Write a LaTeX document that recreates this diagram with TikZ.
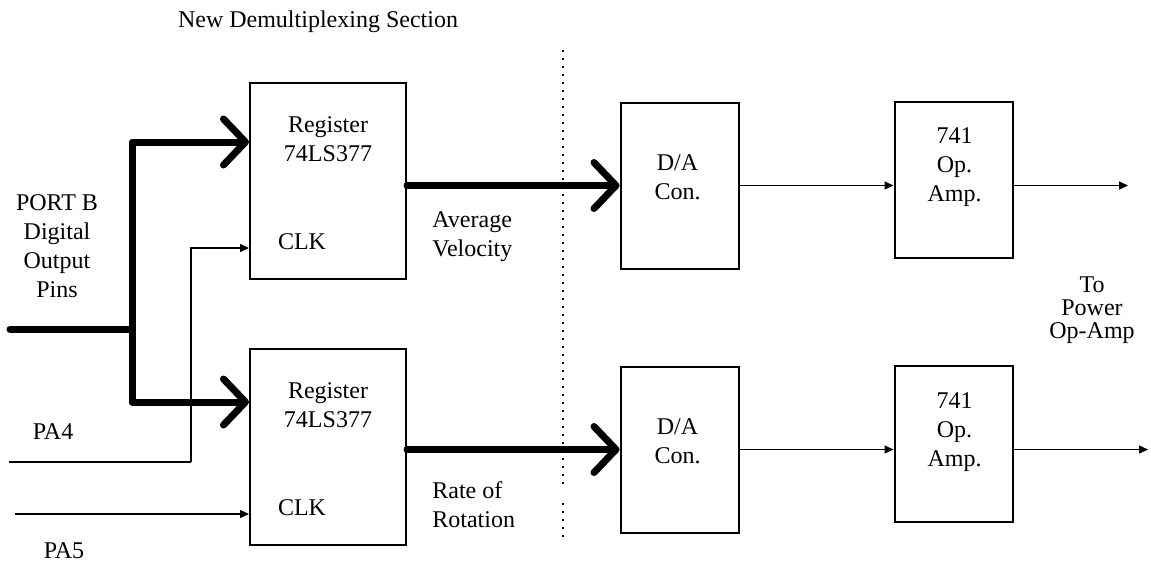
\documentclass[tikz,border=0pt]{standalone}
\usepackage{fontspec}
\setmainfont{Liberation Serif}
\usetikzlibrary{arrows.meta}
\usetikzlibrary{calc}
\usetikzlibrary{positioning}

\begin{document}
\begin{tikzpicture}[x=0.5pt, y=-0.5pt,
  every node/.style={font=\fontsize{12}{14.5}\selectfont},
  box/.style={draw, line width=1pt, inner sep=0pt},
  regbox/.style={box, minimum width=78pt, minimum height=98pt},
  dacbox/.style={box, minimum width=59pt, minimum height=83pt},
  ampbox/.style={box, minimum width=59pt, minimum height=78pt},
  txt/.style={align=center, inner sep=0pt},
  bus/.style={line width=3.5pt, line cap=round, line join=round},
  busarrow/.style={bus, -{Straight Barb[length=11pt, width=23pt, round]}},
  wire/.style={line width=0.7pt},
  wirearrow/.style={wire, -{Triangle[length=4.5pt, width=4pt]}},
  divider/.style={line width=1pt, dash pattern=on 1pt off 3pt}]
  \useasboundingbox (0,0) rectangle (1151,564);

  \node[txt] (title) at (318,22) {New Demultiplexing Section};

  % section divider
  \coordinate (divtop) at (563,50);
  \coordinate (divgap1) at (563,490);
  \coordinate (divgap2) at (563,503);
  \coordinate (divbot) at (563,537);
  \draw[divider] (divtop) -- (divgap1) (divgap2) -- (divbot);

  % two channels
  \foreach \n/\ry/\dy/\ay/\ox in {1/181/185.5/179.5/1128, 2/447/449.5/444/1148} {
    \node[regbox] (reg\n) at (328,\ry) {};
    \node[txt] (regtxt\n) at ($(reg\n)+(0,-42)$) {Register\\74LS377};
    \node[txt] (clk\n) at ($(reg\n)+(-26,61)$) {CLK};
    \node[dacbox] (dac\n) at (679.5,\dy) {};
    \node[txt] (dactxt\n) at ($(dac\n)+(-2,-8.5)$) {D/A\\Con.};
    \node[ampbox] (amp\n) at (953.5,\ay) {};
    \node[txt] (amptxt\n) at ($(amp\n)+(1,-12)$) {741\\Op.\\Amp.};
    \coordinate (out\n) at (\ox,\dy);
    \draw[busarrow] (dac\n.west -| reg\n.east) -- (dac\n.west);
    \draw[wirearrow] (dac\n.east) -- (dac\n.east -| amp\n.west);
    \draw[wirearrow] (amp\n.east |- dac\n.east) -- (out\n);
  }

  % port b bus
  \coordinate (portb) at (10,329);
  \coordinate (split) at (132,329);
  \draw[bus] (portb) -- (split);
  \draw[busarrow] (split) |- ($(reg1.north west)+(0,60)$);
  \draw[busarrow] (split) |- ($(reg2.north west)+(0,54)$);

  % clock lines
  \coordinate (pa4in) at (9,462);
  \coordinate (clkbend) at (191,462);
  \coordinate (pa5in) at (15,514);
  \draw[wire] (pa4in) -- (clkbend);
  \draw[wirearrow] (clkbend) |- ($(reg1.south west)+(0,-32)$);
  \draw[wirearrow] (pa5in) -- (pa5in -| reg2.west);

  \node[txt] (port) at (57,246.5) {PORT B\\Digital\\Output\\Pins};
  \node[txt] (pa4) at (53,432) {PA4};
  \node[txt] (pa5) at (64,551) {PA5};
  \node[txt, align=left, anchor=west] (avg) at (432,237) {Average\\Velocity};
  \node[txt, align=left, anchor=west] (rot) at (432,505) {Rate of\\Rotation};
  \node[txt, font=\fontsize{12}{11.5}\selectfont] (topower) at (1092,310) {To\\Power\\Op-Amp};
\end{tikzpicture}
\end{document}
